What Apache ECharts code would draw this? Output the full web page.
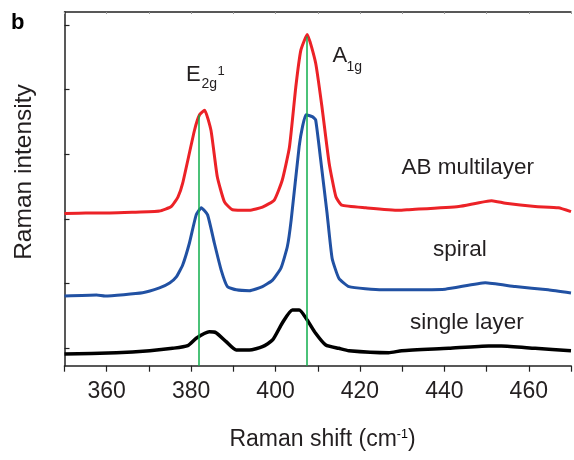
<!DOCTYPE html>
<html>
<head>
<meta charset="utf-8">
<script src="https://cdn.jsdelivr.net/npm/echarts@6/dist/echarts.min.js"></script>
<style>
  html, body { margin: 0; padding: 0; background: #fff; }
  #chart { width: 574px; height: 460px; }
</style>
</head>
<body>
<div id="chart"></div>
<script>
// Raman spectra (shift in cm-1, intensity in a.u., offset per curve)
var abShift = [350, 355, 360.7, 366, 372.5, 375.3, 376.9, 378.0, 380.8, 382.0, 383.2, 384.7, 386.2, 387.9, 389.8, 393.8, 396.9, 399.7, 401.6, 403.3, 404.8, 406.0, 407.5, 409.5, 411.0, 412.7, 414.3, 415.7, 421.4, 429.2, 431.6, 443.4, 451.2, 454.5, 461.5, 467.0, 470];
var abIntensity = [2.08, 2.09, 2.09, 2.10, 2.12, 2.19, 2.34, 2.55, 3.37, 3.61, 3.68, 3.37, 2.65, 2.26, 2.14, 2.13, 2.18, 2.29, 2.60, 3.11, 4.04, 4.61, 4.85, 4.41, 3.73, 2.86, 2.34, 2.21, 2.17, 2.13, 2.14, 2.19, 2.28, 2.24, 2.19, 2.17, 2.11];

var spiralShift = [350, 357.6, 359.6, 368.5, 372.5, 374.9, 376.5, 378.0, 379.6, 381.2, 382.4, 383.9, 385.5, 387.1, 388.6, 390.7, 393.8, 396.9, 399.3, 401.3, 402.8, 403.7, 405.6, 406.4, 407.2, 408.7, 409.5, 410.7, 412.2, 413.4, 415.0, 417.4, 425.2, 440.2, 449.7, 456.8, 464.6, 470];
var spiralIntensity = [0.805, 0.82, 0.805, 0.856, 0.93, 1.006, 1.10, 1.285, 1.625, 2.06, 2.17, 2.06, 1.625, 1.21, 0.95, 0.90, 0.887, 0.95, 1.05, 1.24, 1.57, 1.98, 3.12, 3.43, 3.61, 3.58, 3.53, 2.91, 2.09, 1.39, 1.08, 0.95, 0.90, 0.91, 1.01, 0.95, 0.90, 0.85];

var singleShift = [350, 362.3, 370.2, 375.6, 379.2, 381.2, 384.3, 385.9, 388.3, 390.7, 393.8, 396.9, 399.3, 401.6, 404.0, 405.6, 407.5, 409.5, 411.9, 415.0, 417.4, 426.8, 429.9, 441.0, 450.5, 453.5, 461.5, 470];
var singleIntensity = [-0.093, -0.073, -0.042, -0.005, 0.036, 0.15, 0.25, 0.237, 0.098, -0.031, -0.031, 0.02, 0.124, 0.387, 0.588, 0.588, 0.433, 0.228, 0.046, -0.005, -0.042, -0.073, -0.042, -0.005, 0.031, 0.031, -0.005, -0.042];

// peak positions marked by the green lines, and where they stop
var peakShift = [381.9, 407.4];
var peakTop = [3.61, 4.82];
var yTicks = [0, 1, 2, 3, 4, 5];

var FONT = 'Liberation Sans, Arial, sans-serif';
var TXT = '#231f20';

function zip(xs, ys) {
    return xs.map(function (x, i) { return [x, ys[i]]; });
}

var yMin = -0.274, yMax = 5.2;

var chart = echarts.init(document.getElementById('chart'));

var option = {
    animation: false,
    grid: { left: 64.5, right: 1, top: 12, bottom: 94.3 },
    xAxis: [{
        type: 'value',
        min: 350, max: 470, interval: 10,
        axisLine: { onZero: false, lineStyle: { color: '#222', width: 1.5 } },
        axisTick: { inside: false, length: 6, lineStyle: { color: '#222', width: 1.2 } },
        axisLabel: {
            margin: 14,
            fontFamily: FONT, fontSize: 23, color: TXT,
            formatter: function (v) { return (v % 20 === 0 && v > 350 && v < 470) ? v : ''; }
        },
        splitLine: { show: false }
    }, {
        type: 'value', position: 'top',
        min: 350, max: 470, interval: 10,
        axisLine: { onZero: false, lineStyle: { color: '#222', width: 1.5 } },
        axisTick: { inside: true, length: 2, lineStyle: { color: '#999', width: 1 } },
        axisLabel: { show: false },
        splitLine: { show: false }
    }],
    yAxis: {
        type: 'value',
        min: yMin, max: yMax,
        axisLine: { show: true, onZero: false, lineStyle: { color: '#222', width: 1.5 } },
        axisTick: { show: true, inside: true, length: 5, customValues: yTicks, lineStyle: { color: '#222', width: 1.2 } },
        axisLabel: { show: false },
        splitLine: { show: false }
    },
    series: [{
        name: 'AB multilayer', type: 'line', data: zip(abShift, abIntensity),
        showSymbol: false, smooth: 0.15,
        lineStyle: { color: '#ec2227', width: 3, join: 'round' },
        z: 3
    }, {
        name: 'spiral', type: 'line', data: zip(spiralShift, spiralIntensity),
        showSymbol: false, smooth: 0.15,
        lineStyle: { color: '#2151a3', width: 3, join: 'round' },
        z: 3
    }, {
        name: 'single layer', type: 'line', data: zip(singleShift, singleIntensity),
        showSymbol: false, smooth: 0.2,
        lineStyle: { color: '#000', width: 3.5, join: 'round' },
        z: 3,
        markLine: {
            silent: true, symbol: 'none', label: { show: false },
            lineStyle: { color: '#0fae4b', width: 1.5, type: 'solid' },
            data: peakShift.map(function (p, i) {
                return [{ coord: [p, yMin] }, { coord: [p, peakTop[i]] }];
            })
        }
    }],
    graphic: [
        { type: 'text', left: 11, top: 12, style: { text: 'b', font: 'bold 22px ' + FONT, fill: '#000' } },
        { type: 'text', x: 24, y: 172, rotation: Math.PI / 2,
          style: { text: 'Raman intensity', font: '24.5px ' + FONT, fill: TXT, align: 'center', verticalAlign: 'middle' } },
        { type: 'text', x: 322.5, y: 440,
          style: {
              text: '{n|Raman shift (cm}{s|-1}{n|)}', align: 'center', verticalAlign: 'middle',
              rich: {
                  n: { fontFamily: FONT, fontSize: 23, fill: TXT, color: TXT },
                  s: { fontFamily: FONT, fontSize: 12.5, color: TXT, verticalAlign: 'top', padding: [0, 0, 8, 0] }
              }
          } },
        // peak labels
        { type: 'text', x: 186, y: 75, style: { text: 'E', font: '22px ' + FONT, fill: TXT, verticalAlign: 'middle' } },
        { type: 'text', x: 201.5, y: 84.5, style: { text: '2g', font: '14px ' + FONT, fill: TXT, verticalAlign: 'middle' } },
        { type: 'text', x: 217.5, y: 71, style: { text: '1', font: '13px ' + FONT, fill: TXT, verticalAlign: 'middle' } },
        { type: 'text', x: 332.5, y: 56, style: { text: 'A', font: '22px ' + FONT, fill: TXT, verticalAlign: 'middle' } },
        { type: 'text', x: 346.5, y: 67, style: { text: '1g', font: '14px ' + FONT, fill: TXT, verticalAlign: 'middle' } },
        // curve names
        { type: 'text', x: 401.5, y: 168, style: { text: 'AB multilayer', font: '22.5px ' + FONT, fill: TXT, verticalAlign: 'middle' } },
        { type: 'text', x: 433, y: 249.5, style: { text: 'spiral', font: '22.5px ' + FONT, fill: TXT, verticalAlign: 'middle' } },
        { type: 'text', x: 410, y: 323, style: { text: 'single layer', font: '22.5px ' + FONT, fill: TXT, verticalAlign: 'middle' } }
    ]
};

chart.setOption(option);
</script>
</body>
</html>
